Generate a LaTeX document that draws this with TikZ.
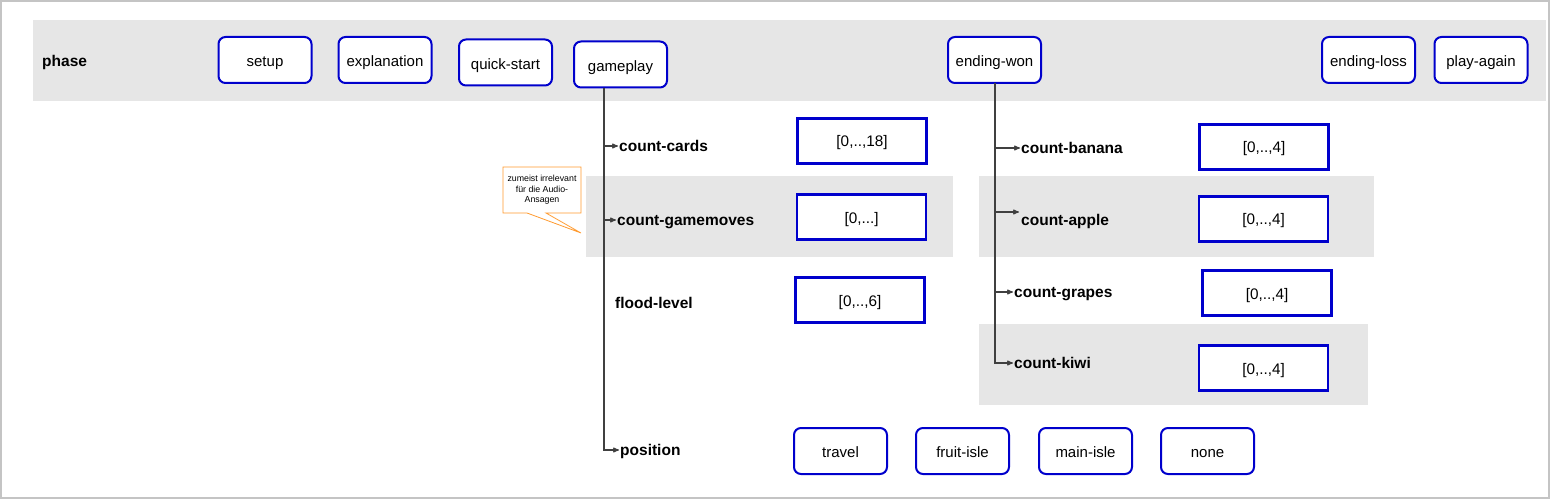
\documentclass[tikz,border=0pt]{standalone}
\usepackage{fontspec}
\setmainfont{Liberation Sans}
\usetikzlibrary{arrows,positioning}
\definecolor{boxblue}{HTML}{0000CC}
\definecolor{bandgray}{HTML}{E6E6E6}
\definecolor{framegray}{HTML}{C4C4C4}
\definecolor{noteorange}{HTML}{FF9A2E}

\begin{document}
\begin{tikzpicture}[x=1pt,y=-1pt,>=stealth',
                    phase node/.style={draw=boxblue,line width=2pt,rounded corners=7pt,fill=white,
                      minimum width=93pt,minimum height=46pt,inner sep=2pt,text height=13.5pt,text depth=0pt,
                      font=\fontsize{15}{17}\selectfont},
                    range box/.style={draw=boxblue,line width=2.5pt,fill=white,text height=13pt,text depth=1pt,
                      minimum width=129pt,minimum height=45pt,font=\fontsize{15.3}{17}\selectfont},
                    var label/.style={anchor=west,inner sep=1pt,text height=12.5pt,text depth=2pt,
                      font=\bfseries\fontsize{15.5}{17}\selectfont},
                    band/.style={fill=bandgray,draw=none},
                    branch/.style={->,draw=black!75,line width=1.1pt}]

  \useasboundingbox (0,0) rectangle (1551,500);
  \draw[framegray,line width=2pt] (1,1) rectangle (1549,498);

  % grey bands
  \fill[band] (33,20) rectangle (1546,101);
  \fill[band] (586,176) rectangle (953,257);
  \fill[band] (979,176) rectangle (1374,257);
  \fill[band] (979,324) rectangle (1368,405);

  % phases
  \node[var label] (phase) at (41,61) {phase};
  \node[phase node] (setup) at (265,60) {setup};
  \node[phase node] (explanation) at (385,60) {explanation};
  \node[phase node] (quickstart) at (505.5,62.5) {quick-start};
  \node[phase node] (gameplay) at (620.5,64.5) {gameplay};
  \node[phase node] (endingwon) at (994.5,60) {ending-won};
  \node[phase node] (endingloss) at (1368.5,60) {ending-loss};
  \node[phase node] (playagain) at (1481,60) {play-again};

  % gameplay variables
  \node[var label] (cards) at (618,146) {count-cards};
  \node[var label] (moves) at (616,220) {count-gamemoves};
  \node[var label] (flood) at (614,303) {flood-level};
  \node[var label] (position) at (619,450) {position};

  \node[range box] (cardsrange) at (862,141) {[0,..,18]};
  \node[range box] (movesrange) at (861.5,217) {[0,...]};
  \node[range box] (floodrange) at (860,300) {[0,..,6]};

  \node[phase node] (travel) at (840.5,451) {travel};
  \node[phase node] (fruitisle) at (962.5,451) {fruit-isle};
  \node[phase node] (mainisle) at (1085.5,451) {main-isle};
  \node[phase node] (none) at (1207.5,451) {none};

  % ending-won variables
  \node[var label] (banana) at (1020,148) {count-banana};
  \node[var label] (apple) at (1020,220) {count-apple};
  \node[var label] (grapes) at (1013,292) {count-grapes};
  \node[var label] (kiwi) at (1013,363) {count-kiwi};

  \node[range box] (bananarange) at (1264,147) {[0,..,4]};
  \node[range box] (applerange) at (1263.5,219) {[0,..,4]};
  \node[range box] (grapesrange) at (1267,293) {[0,..,4]};
  \node[range box] (kiwirange) at (1263.5,368) {[0,..,4]};

  % trunks
  \coordinate (trunkL) at (604,88);
  \coordinate (trunkR) at (995,83);
  \coordinate (appletip) at (1019,212);

  \draw[branch] (trunkL) |- (cards.west);
  \draw[branch] (trunkL) |- (moves.west);
  \draw[branch] (trunkL) |- (position.west);

  \draw[branch] (trunkR) |- (banana.west);
  \draw[branch] (trunkR) |- (appletip);
  \draw[branch] (trunkR) |- (grapes.west);
  \draw[branch] (trunkR) |- (kiwi.west);

  % note
  \draw[noteorange,fill=white,line width=0.8pt] (503,167) -- (581,167) -- (581,213) -- (546,213)
    -- (581,233) -- (527,213) -- (503,213) -- cycle;
  \node[align=center,inner sep=0pt,font=\fontsize{8.8}{10.5}\selectfont] (note) at (542,190)
    {zumeist irrelevant\\für die Audio-\\Ansagen};
\end{tikzpicture}
\end{document}
